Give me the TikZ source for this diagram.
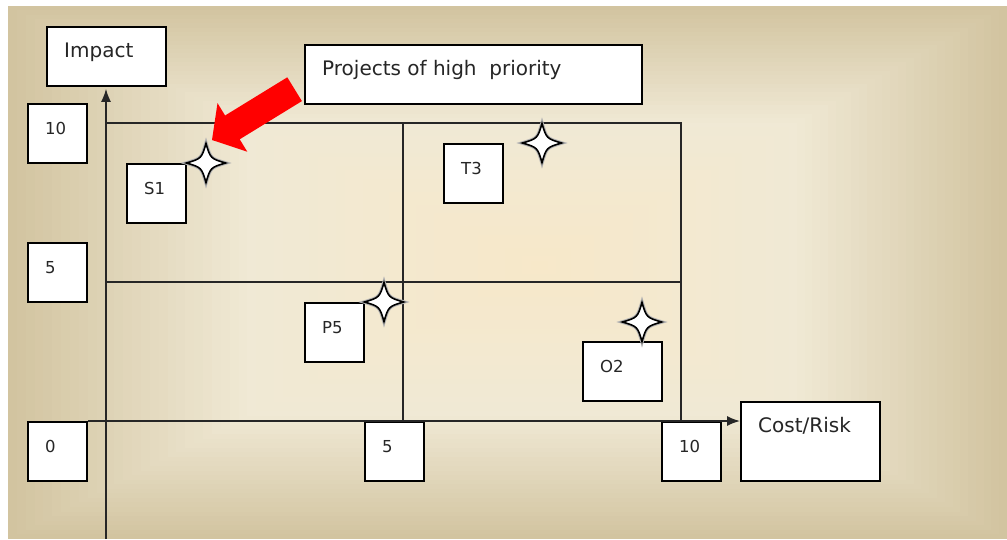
\documentclass[tikz,border=0pt]{standalone}
\usepackage{fontspec}
\setmainfont{DejaVu Sans}
\usetikzlibrary{arrows.meta}

\definecolor{bgpeach}{HTML}{F7E8C9}
\definecolor{bgcream}{HTML}{F0E9D5}
\definecolor{bgtan}{HTML}{D2C4A0}
\definecolor{arrowred}{HTML}{FF0000}

% a framed white box with its caption set near the top left corner
\newcommand\labelbox[7]{%
  \node[cellframe, minimum width=#4pt, minimum height=#5pt] (#1) at (#2,#3) {};
  \node[celltext, #6] (#1-text) at ([shift={(18,31)}]#1.north west) {#7};}

\begin{document}
\begin{tikzpicture}[x=1pt, y=-1pt,
  cellframe/.style={draw=black, line width=1.8pt, fill=white, inner sep=0pt, anchor=north west},
  celltext/.style={anchor=base west, inner sep=0pt, text=black!85},
  wordfont/.style={font=\fontsize{20}{24}\selectfont},
  numfont/.style={font=\fontsize{16.5}{19}\selectfont},
  gridline/.style={draw=black!85, line width=1.5pt},
  axis/.style={draw=black!85, line width=1.5pt, -{Latex[length=13pt, width=10pt]}},
  sparkle/.style={draw=black, fill=white, line width=1.6pt,
    preaction={draw=black!30, line width=3.6pt}}]

\useasboundingbox (0,0) rectangle (1007,539);
\fill[white] (0,0) rectangle (1007,539);

% backdrop: rectangular gradient, light in the middle, tan towards the edges
\foreach \i in {60,59,...,1}{
  \pgfmathsetmacro\gt{\i/60}
  \pgfmathtruncatemacro\pa{min(100,\gt/0.55*100)}
  \pgfmathtruncatemacro\pb{max(0,(\gt-0.55)/0.45*100)}
  \fill[bgtan!\pb!bgcream!\pa!bgpeach]
    ({540-532*\gt},{265-259*\gt}) rectangle ({540+467*\gt},{265+274*\gt});
}

% quadrant grid
\draw[gridline] (106,123) -- (681,123) -- (681,421);
\draw[gridline] (403,123) -- (403,421);
\draw[gridline] (106,282) -- (681,282);

% red block arrow pointing at the high priority corner
\fill[arrowred] (212,140) -- (247.3,151.7) -- (239.7,139.3) -- (301.9,101.1)
  -- (287.3,77.3) -- (225.1,115.5) -- (217.5,103.1) -- cycle;

% boxes
\labelbox{impact}{46}{26}{119}{59}{wordfont}{Impact}
\labelbox{prio}{304}{44}{337}{59}{wordfont}{Projects of high\ \ priority}
\labelbox{cost}{740}{401}{139}{79}{wordfont}{Cost/Risk}
\labelbox{yten}{27}{103}{59}{59}{numfont}{10}
\labelbox{yfive}{27}{242}{59}{59}{numfont}{5}
\labelbox{zero}{27}{421}{59}{59}{numfont}{0}
\labelbox{xfive}{364}{421}{59}{59}{numfont}{5}
\labelbox{xten}{661}{421}{59}{59}{numfont}{10}
\labelbox{s1}{126}{163}{59}{59}{numfont}{S1}
\labelbox{t3}{443}{143}{59}{59}{numfont}{T3}
\labelbox{p5}{304}{302}{59}{59}{numfont}{P5}
\labelbox{o2}{582}{341}{79}{59}{numfont}{O2}

% axes
\coordinate (ybot) at (106,539);
\draw[axis, shorten >=2pt] (ybot) -- (ybot |- impact.south);
\draw[axis] (zero.north east) -- (zero.north east -| cost.west);

% four-point stars marking the projects
\foreach \sx/\sy in {206/163, 542/143, 384/302, 642/322}{
  \begin{scope}[shift={(\sx,\sy)}]
    \draw[sparkle] (0,-19.5) .. controls (4.5,-4.5) .. (19.5,0)
      .. controls (4.5,4.5) .. (0,19.5)
      .. controls (-4.5,4.5) .. (-19.5,0)
      .. controls (-4.5,-4.5) .. cycle;
  \end{scope}
}
\end{tikzpicture}
\end{document}
